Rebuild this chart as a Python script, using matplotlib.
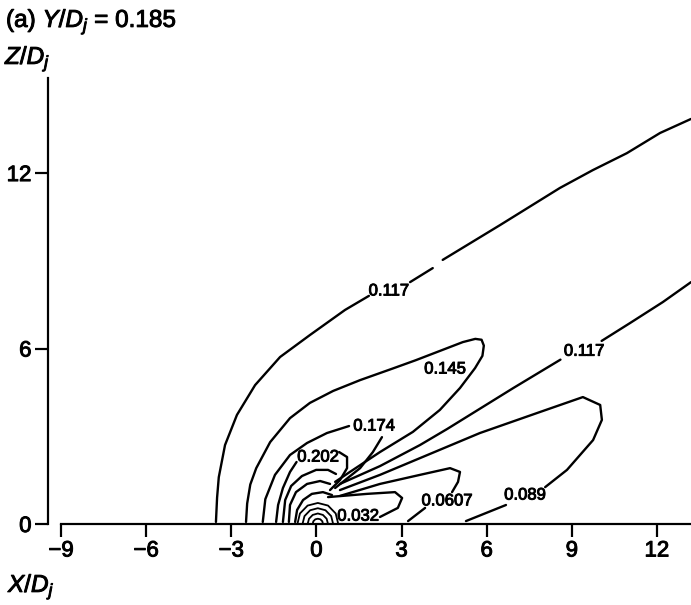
import matplotlib
matplotlib.use("Agg")
import matplotlib.pyplot as plt
import matplotlib.patheffects as pe

plt.rcParams['font.family'] = ['Liberation Sans', 'DejaVu Sans']
plt.rcParams['mathtext.fontset'] = 'custom'
plt.rcParams['mathtext.rm'] = 'Liberation Sans'
plt.rcParams['mathtext.it'] = 'Liberation Sans:italic'

# ---------------- data ----------------
x_ticks = [-9, -6, -3, 0, 3, 6, 9, 12]
z_ticks = [0, 6, 12]

# outer 0.117 contour (three pieces, broken at label / small gap)
c117a_x = [-3.54, -3.50, -3.44, -3.22, -2.80, -2.16, -1.28, -0.23, 1.01, 1.85]
c117a_z = [0.07, 0.90, 1.60, 2.70, 3.73, 4.75, 5.71, 6.46, 7.32, 7.80]
c117b_x = [3.30, 4.10]
c117b_z = [8.27, 8.75]
c117c_x = [4.45, 6.47, 8.58, 9.74, 10.94, 12.11, 13.20]
c117c_z = [9.03, 10.22, 11.49, 12.10, 12.68, 13.37, 13.85]

# inner 0.117 line
c117i_a_x = [0.83, 2.24, 3.65, 4.61, 6.94, 8.60]
c117i_a_z = [1.37, 1.98, 2.70, 3.25, 4.65, 5.62]
c117i_b_x = [10.05, 11.05, 12.21, 13.20]
c117i_b_z = [6.26, 6.87, 7.59, 8.27]

# 0.145 loop
c145_x = [-2.48, -2.44, -2.33, -2.12, -1.63, -0.93, -0.23, 0.59, 1.54, 2.70, 3.50, 4.25,
          5.16, 5.60, 5.82, 5.90, 5.85, 5.59, 5.06, 4.35, 3.40, 2.24, 1.18, 0.66]
c145_z = [0.07, 0.70, 1.35, 1.91, 2.80, 3.62, 4.14, 4.55, 4.92, 5.32, 5.60, 5.88,
          6.22, 6.33, 6.30, 6.10, 5.75, 5.33, 4.65, 3.90, 3.15, 2.46, 1.78, 1.44]

# 0.174
c174a_x = [-1.89, -1.80, -1.46, -0.93, -0.33, 0.37, 1.15]
c174a_z = [0.07, 0.85, 1.68, 2.36, 2.77, 3.11, 3.35]
c174b_x = [2.31, 1.99, 1.54, 1.01, 0.66]
c174b_z = [2.97, 2.46, 1.91, 1.50, 1.23]

# 0.202
c202a_x = [-1.42, -1.35, -1.18, -0.93, -0.70]
c202a_z = [0.07, 0.65, 1.23, 1.78, 2.12]
c202b_x = [0.80, 1.08, 1.08, 0.83, 0.48]
c202b_z = [2.46, 2.29, 1.91, 1.50, 1.16]

# inner loops of the core
c231_x = [-1.18, -1.10, -0.89, -0.51, -0.01, 0.41, 0.69]
c231_z = [0.07, 0.82, 1.30, 1.64, 1.85, 1.85, 1.71]
c260_x = [-0.97, -0.93, -0.72, -0.33, 0.13, 0.48]
c260_z = [0.07, 0.65, 1.09, 1.37, 1.47, 1.37]
c290_x = [-0.75, -0.68, -0.47, -0.16, 0.23, 0.55]
c290_z = [0.07, 0.48, 0.82, 1.03, 1.09, 0.99]

# 0.089
c089a_x = [0.83, 2.24, 5.76, 7.88, 9.39, 10.0, 10.06, 9.75, 8.83, 8.06]
c089a_z = [1.16, 1.68, 3.11, 3.83, 4.34, 4.07, 3.56, 2.87, 1.85, 1.26]
c089b_x = [6.68, 5.27]
c089b_z = [0.65, 0.10]

# 0.0607
c0607a_x = [0.83, 2.24, 3.65, 4.71, 5.06, 4.99, 4.78]
c0607a_z = [0.96, 1.37, 1.68, 1.91, 1.78, 1.44, 1.09]
c0607b_x = [3.83, 3.23]
c0607b_z = [0.55, 0.10]

# 0.032
c032_x = [0.41, 1.78, 2.77, 3.02, 2.87, 2.24]
c032_z = [0.92, 1.03, 1.09, 0.89, 0.55, 0.24]

# small arcs round the jet exit
arc1_x = [0.23, 0.21, 0.14, 0.05, -0.04, -0.11, -0.13]
arc1_z = [0.0, 0.09, 0.16, 0.18, 0.16, 0.09, 0.0]
arc2_x = [0.41, 0.36, 0.23, 0.05, -0.13, -0.26, -0.31]
arc2_z = [0.0, 0.18, 0.31, 0.36, 0.31, 0.18, 0.0]
arc3_x = [0.59, 0.52, 0.32, 0.05, -0.22, -0.42, -0.49]
arc3_z = [0.0, 0.27, 0.47, 0.54, 0.47, 0.27, 0.0]
arc4_x = [0.77, 0.68, 0.41, 0.05, -0.31, -0.58, -0.67]
arc4_z = [0.0, 0.36, 0.63, 0.72, 0.63, 0.36, 0.0]

# contour labels
label_text = ['0.117', '0.117', '0.145', '0.174', '0.202', '0.0607', '0.089', '0.032']
label_x = [2.55, 9.43, 4.53, 2.03, 0.06, 4.60, 7.35, 1.47]
label_z = [7.97, 5.91, 5.30, 3.35, 2.29, 0.79, 0.99, 0.27]

# ---------------- figure ----------------
W, H = 691, 605
PX = 72 / 100  # points per pixel
thick = [pe.withStroke(linewidth=0.7, foreground='black')]

fig = plt.figure(figsize=(W / 100, H / 100), dpi=100)
ax = fig.add_axes([61 / W, (H - 524) / H, 630 / W, (524 - 78) / H])
ax.set_xlim(-9, 13.2)
ax.set_ylim(0, 15.25)

lines = [
    (c117a_x, c117a_z), (c117b_x, c117b_z), (c117c_x, c117c_z),
    (c117i_a_x, c117i_a_z), (c117i_b_x, c117i_b_z),
    (c145_x, c145_z), (c174a_x, c174a_z), (c174b_x, c174b_z),
    (c202a_x, c202a_z), (c202b_x, c202b_z),
    (c231_x, c231_z), (c260_x, c260_z), (c290_x, c290_z),
    (c089a_x, c089a_z), (c089b_x, c089b_z),
    (c0607a_x, c0607a_z), (c0607b_x, c0607b_z),
    (c032_x, c032_z),
]
for xs, zs in lines:
    ax.plot(xs, zs, color='black', lw=1.7, solid_joinstyle='round',
            solid_capstyle='round', clip_on=False)
for xs, zs in [(arc1_x, arc1_z), (arc2_x, arc2_z), (arc3_x, arc3_z), (arc4_x, arc4_z)]:
    ax.plot(xs, zs, color='black', lw=1.3, solid_joinstyle='round',
            solid_capstyle='round', clip_on=False)

for t, x, z in zip(label_text, label_x, label_z):
    ax.text(x, z, t, fontsize=12, ha='center', va='center', color='black',
            path_effects=thick)

for s in ['top', 'right']:
    ax.spines[s].set_visible(False)
ax.spines['left'].set_position(('outward', 13 * PX))
ax.spines['left'].set_bounds(0, 15.25)
ax.spines['bottom'].set_bounds(-9, 13.2)
for s in ['left', 'bottom']:
    ax.spines[s].set_linewidth(2.2 * PX)

ax.set_xticks(x_ticks)
ax.set_xticklabels(['\u2212' + str(-v) if v < 0 else str(v) for v in x_ticks])
ax.set_yticks(z_ticks)
ax.tick_params(axis='both', direction='out', length=13 * PX, width=2.2 * PX,
               labelsize=16, pad=2.5)
for lab in ax.get_xticklabels() + ax.get_yticklabels():
    lab.set_path_effects(thick)

for tx, ty, s in [(6, 27, r'(a) $\mathit{Y/D_j}$ = 0.185'),
                  (5, 64, r'$\mathit{Z/D_j}$'),
                  (8, 592, r'$\mathit{X/D_j}$')]:
    fig.text(tx / W, 1 - ty / H, s, fontsize=17.5, va='baseline', ha='left',
             path_effects=thick)

fig.savefig('out.png', dpi=100)
